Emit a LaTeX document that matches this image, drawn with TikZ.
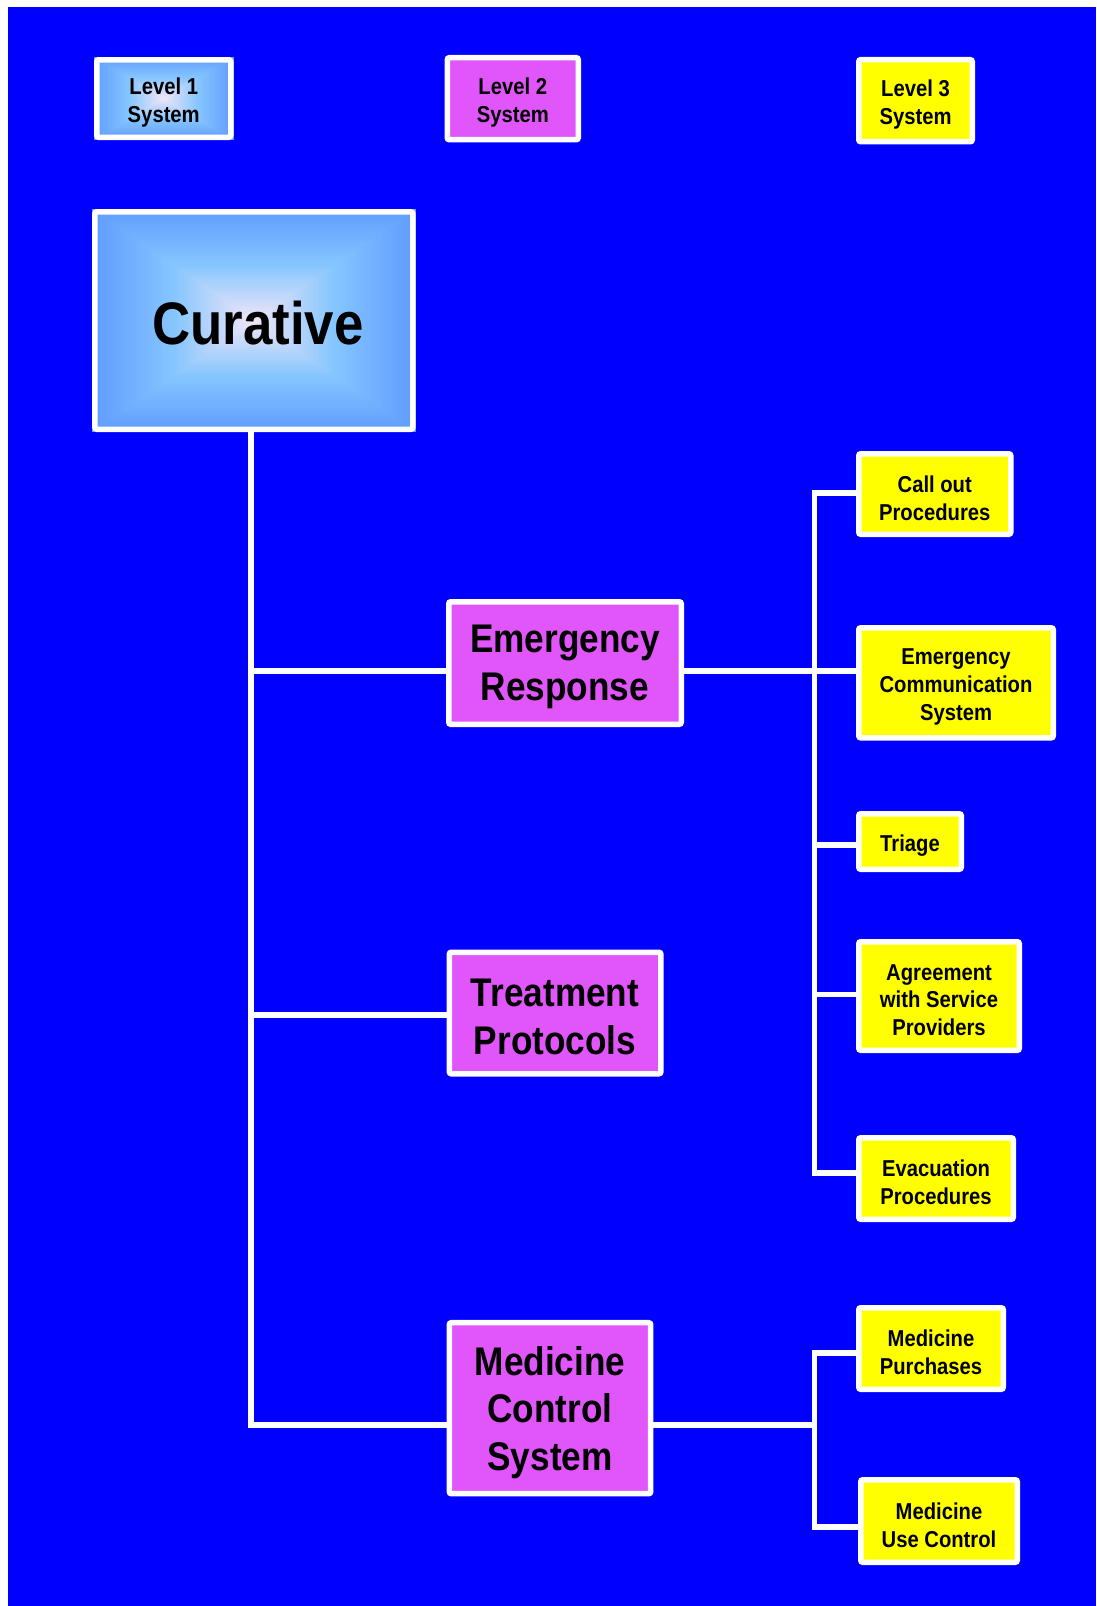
\documentclass[tikz,border=0pt]{standalone}
\usepackage{fontspec}
\usetikzlibrary{calc}
\newfontfamily\lab{Liberation Sans}[FakeStretch=0.88]
\definecolor{bgblue}{RGB}{0,0,255}
\definecolor{lvltwo}{RGB}{224,86,250}
\definecolor{lvlthree}{RGB}{255,255,0}
\definecolor{glowedge}{RGB}{96,156,255}
\definecolor{glowmid}{RGB}{134,198,255}
\definecolor{glowcentre}{RGB}{242,230,246}
\pgfdeclarelayer{base}
\pgfdeclarelayer{shade}
\pgfsetlayers{base,shade,main}
% rectangular "from centre" glow filling a node, built from nested rectangles
\newcommand\glowfill[1]{%
  \foreach \i in {0,...,29}{%
    \pgfmathsetmacro\f{1-\i/60}%
    \pgfmathsetmacro\p{\i/30*100}%
    \fill[glowmid!\p!glowedge]
      ($(#1.center)!\f!(#1.north west)$) rectangle ($(#1.center)!\f!(#1.south east)$);
  }%
  \foreach \i in {30,...,59}{%
    \pgfmathsetmacro\f{1-\i/60}%
    \pgfmathsetmacro\p{(\i-30)/30*100}%
    \fill[glowcentre!\p!glowmid]
      ($(#1.center)!\f!(#1.north west)$) rectangle ($(#1.center)!\f!(#1.south east)$);
  }%
}
\begin{document}
\begin{tikzpicture}[x=1pt,y=-1pt,
  box/.style={draw=white, line width=5.5pt, rounded corners=2pt, inner sep=0pt},
  txt/.style={align=center, text=black, inner sep=0pt, yshift=-4pt},
  smalltxt/.style={txt, font=\lab\bfseries\fontsize{23}{27.7}\selectfont},
  bigtxt/.style={txt, font=\lab\bfseries\fontsize{40}{47.5}\selectfont},
  hugetxt/.style={txt, yshift=1pt, font=\lab\bfseries\fontsize{60}{66}\selectfont},
  lvlone/.style={box},
  lvltwobox/.style={box, fill=lvltwo},
  lvlthreebox/.style={box, fill=lvlthree},
  wire/.style={draw=white, line width=5.5pt, line cap=rect}]

\useasboundingbox (0,0) rectangle (1096,1606);
\begin{pgfonlayer}{base}
  \fill[white] (0,0) rectangle (1096,1606);
  \fill[bgblue] (8,7) rectangle (1096,1606);
\end{pgfonlayer}

% legend
\node[lvlone, minimum width=134pt, minimum height=77.5pt,
  label={[smalltxt]center:{Level 1\\System}}] (l1) at (163.75,98.5) {};
\node[lvltwobox, minimum width=131pt, minimum height=82pt,
  label={[smalltxt]center:{Level 2\\System}}] (l2) at (512.75,98.7) {};
\node[lvlthreebox, minimum width=113.5pt, minimum height=82pt,
  label={[smalltxt]center:{Level 3\\System}}] (l3) at (915.5,100.7) {};

% level 1
\node[lvlone, minimum width=318pt, minimum height=217.5pt,
  label={[hugetxt, xshift=4pt]center:Curative}] (cur) at (253.85,320.5) {};

% level 2
\node[lvltwobox, minimum width=232.5pt, minimum height=122.5pt,
  label={[bigtxt]center:{Emergency\\Response}}] (er) at (565,663) {};
\node[lvltwobox, minimum width=211.6pt, minimum height=121.5pt,
  label={[bigtxt]center:{Treatment\\Protocols}}] (tp) at (555.1,1013) {};
\node[lvltwobox, minimum width=201.4pt, minimum height=171pt,
  label={[bigtxt]center:{Medicine\\Control\\System}}] (mcs) at (550,1408.2) {};

% level 3
\node[lvlthreebox, minimum width=152pt, minimum height=80.5pt,
  label={[smalltxt]center:{Call out\\Procedures}}] (co) at (934.75,494) {};
\node[lvlthreebox, minimum width=194.5pt, minimum height=110pt,
  label={[smalltxt]center:{Emergency\\Communication\\System}}] (ecs) at (956,682.8) {};
\node[lvlthreebox, minimum width=102.5pt, minimum height=55.5pt,
  label={[smalltxt]center:Triage}] (tr) at (910,841.5) {};
\node[lvlthreebox, minimum width=160.5pt, minimum height=108.5pt,
  label={[smalltxt]center:{Agreement\\with Service\\Providers}}] (ag) at (939,996) {};
\node[lvlthreebox, minimum width=154.5pt, minimum height=81.5pt,
  label={[smalltxt]center:{Evacuation\\Procedures}}] (ev) at (936,1178.5) {};
\node[lvlthreebox, minimum width=144.5pt, minimum height=81.5pt,
  label={[smalltxt]center:{Medicine\\Purchases}}] (mp) at (931,1348.5) {};
\node[lvlthreebox, minimum width=156.5pt, minimum height=82.5pt,
  label={[smalltxt]center:{Medicine\\Use Control}}] (mu) at (939,1521) {};

\begin{pgfonlayer}{shade}
  \glowfill{l1}
  \glowfill{cur}
\end{pgfonlayer}

% junction points on the trunks
\coordinate (t1) at (251,671);
\coordinate (t2) at (251,1015);
\coordinate (t3) at (251,1425);
\coordinate (r1) at (814.5,493);
\coordinate (r2) at (814.5,671);
\coordinate (r3) at (814.5,845);
\coordinate (r4) at (814.5,994.5);
\coordinate (r5) at (814.5,1173);
\coordinate (m1) at (814.5,1353);
\coordinate (m2) at (814.5,1425);
\coordinate (m3) at (814.5,1527);

\begin{pgfonlayer}{shade}
% level 1 to level 2
\draw[wire] (cur.south -| t1) -- (t3) -- (t3 -| mcs.west);
\draw[wire] (t1) -- (t1 -| er.west);
\draw[wire] (t2) -- (t2 -| tp.west);
% emergency response branch
\draw[wire] (er.east |- r2) -- (r2 -| ecs.west);
\draw[wire] (r1 -| co.west) -- (r1) -- (r5) -- (r5 -| ev.west);
\draw[wire] (r3) -- (r3 -| tr.west);
\draw[wire] (r4) -- (r4 -| ag.west);
% medicine control branch
\draw[wire] (mcs.east |- m2) -- (m2);
\draw[wire] (m1 -| mp.west) -- (m1) -- (m3) -- (m3 -| mu.west);
\end{pgfonlayer}
\end{tikzpicture}
\end{document}
